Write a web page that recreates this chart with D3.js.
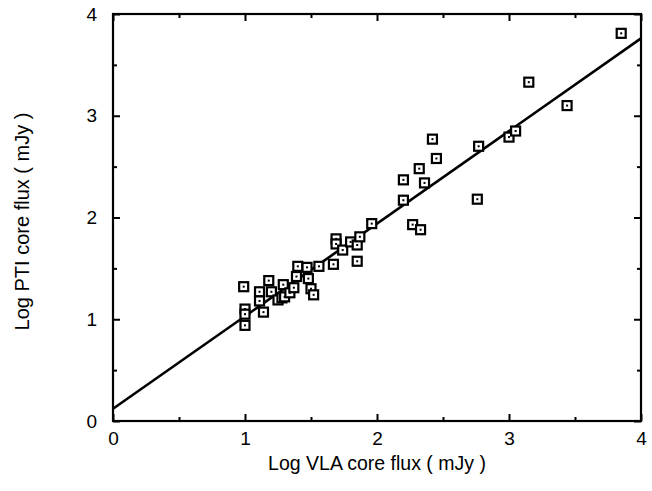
<!DOCTYPE html>
<html>
<head>
<meta charset="utf-8">
<script src="https://cdn.jsdelivr.net/npm/d3@7"></script>
<style>
  body { margin: 0; background: #fff; }
  text { font-family: "Liberation Sans", Arial, sans-serif; fill: #000; }
</style>
</head>
<body>
<div id="chart"></div>
<script>
// data (log VLA flux, log PTI flux)
const vlaFlux = [0.99, 1.0, 1.0, 1.0, 1.11, 1.11, 1.14, 1.18, 1.20, 1.25, 1.28, 1.29, 1.30,
    1.34, 1.37, 1.39, 1.40, 1.47, 1.48, 1.50, 1.52, 1.56, 1.67, 1.69, 1.69, 1.74, 1.80,
    1.85, 1.87, 1.85, 1.96, 2.20, 2.20, 2.27, 2.33, 2.32, 2.36, 2.42, 2.45, 2.76, 2.77,
    3.00, 3.05, 3.15, 3.44, 3.85];
const ptiFlux = [1.32, 1.10, 1.05, 0.94, 1.27, 1.18, 1.07, 1.38, 1.27, 1.19, 1.21, 1.34, 1.22,
    1.26, 1.31, 1.42, 1.52, 1.51, 1.40, 1.30, 1.24, 1.52, 1.54, 1.79, 1.74, 1.68, 1.76,
    1.73, 1.81, 1.57, 1.94, 2.17, 2.37, 1.93, 1.88, 2.48, 2.34, 2.77, 2.58, 2.18, 2.70,
    2.79, 2.85, 3.33, 3.10, 3.81];
// fitted line end points
const fitX = [0, 4];
const fitY = [0.12, 3.76];
const majorTicks = [0, 1, 2, 3, 4];
const minorTicks = [0.5, 1.5, 2.5, 3.5];

const width = 652, height = 491;
const margin = { top: 14, right: 11, bottom: 70, left: 113 };
const w = width - margin.left - margin.right;
const h = height - margin.top - margin.bottom;
const font = 'Liberation Sans, Arial, sans-serif';

const svg = d3.select('#chart').append('svg')
    .attr('width', width)
    .attr('height', height);

const g = svg.append('g')
    .attr('transform', `translate(${margin.left},${margin.top})`);

const x = d3.scaleLinear().domain([0, 4]).range([0, w]);
const y = d3.scaleLinear().domain([0, 4]).range([h, 0]);

// axes on all four sides, ticks pointing inward
function styleAxis(sel) {
    sel.attr('font-size', 19).attr('font-family', font);
    sel.select('.domain').remove();
    sel.selectAll('line').attr('stroke', '#000').attr('stroke-width', 2);
}

g.append('g').attr('transform', `translate(0,${h})`)
    .call(d3.axisBottom(x).tickValues(majorTicks).tickSize(-7).tickPadding(11).tickFormat(d3.format('d')))
    .call(styleAxis);
g.append('g').attr('transform', `translate(0,${h})`)
    .call(d3.axisBottom(x).tickValues(minorTicks).tickSize(-4).tickFormat(''))
    .call(styleAxis);

g.append('g')
    .call(d3.axisTop(x).tickValues(majorTicks).tickSize(-7).tickFormat(''))
    .call(styleAxis);
g.append('g')
    .call(d3.axisTop(x).tickValues(minorTicks).tickSize(-4).tickFormat(''))
    .call(styleAxis);

g.append('g')
    .call(d3.axisLeft(y).tickValues(majorTicks).tickSize(-7).tickPadding(16).tickFormat(d3.format('d')))
    .call(styleAxis);
g.append('g')
    .call(d3.axisLeft(y).tickValues(minorTicks).tickSize(-4).tickFormat(''))
    .call(styleAxis);

g.append('g').attr('transform', `translate(${w},0)`)
    .call(d3.axisRight(y).tickValues(majorTicks).tickSize(-7).tickFormat(''))
    .call(styleAxis);
g.append('g').attr('transform', `translate(${w},0)`)
    .call(d3.axisRight(y).tickValues(minorTicks).tickSize(-4).tickFormat(''))
    .call(styleAxis);

// frame
g.append('rect')
    .attr('width', w)
    .attr('height', h)
    .attr('fill', 'none')
    .attr('stroke', '#000')
    .attr('stroke-width', 2.2);

// fit line
const line = d3.line()
    .x(d => x(d[0]))
    .y(d => y(d[1]));

g.append('path')
    .datum(d3.zip(fitX, fitY))
    .attr('d', line)
    .attr('fill', 'none')
    .attr('stroke', '#000')
    .attr('stroke-width', 2.6);

// points: open squares with a dot
const pts = d3.zip(vlaFlux, ptiFlux);
const s = 9;
const marks = g.append('g').selectAll('g')
    .data(pts)
    .join('g')
    .attr('transform', d => `translate(${x(d[0])},${y(d[1])})`);

marks.append('rect')
    .attr('x', -s / 2).attr('y', -s / 2)
    .attr('width', s).attr('height', s)
    .attr('fill', '#fff')
    .attr('stroke', '#000')
    .attr('stroke-width', 2.2);

marks.append('rect')
    .attr('x', -1).attr('y', -1)
    .attr('width', 2).attr('height', 2)
    .attr('fill', '#000');

// axis titles
svg.append('text')
    .attr('x', margin.left + w / 2)
    .attr('y', 470)
    .attr('text-anchor', 'middle')
    .attr('font-size', 19.5)
    .text('Log VLA core flux ( mJy )');

svg.append('text')
    .attr('transform', `translate(29,${margin.top + h / 2 + 4}) rotate(-90)`)
    .attr('text-anchor', 'middle')
    .attr('font-size', 20)
    .text('Log PTI core flux ( mJy )');
</script>
</body>
</html>
